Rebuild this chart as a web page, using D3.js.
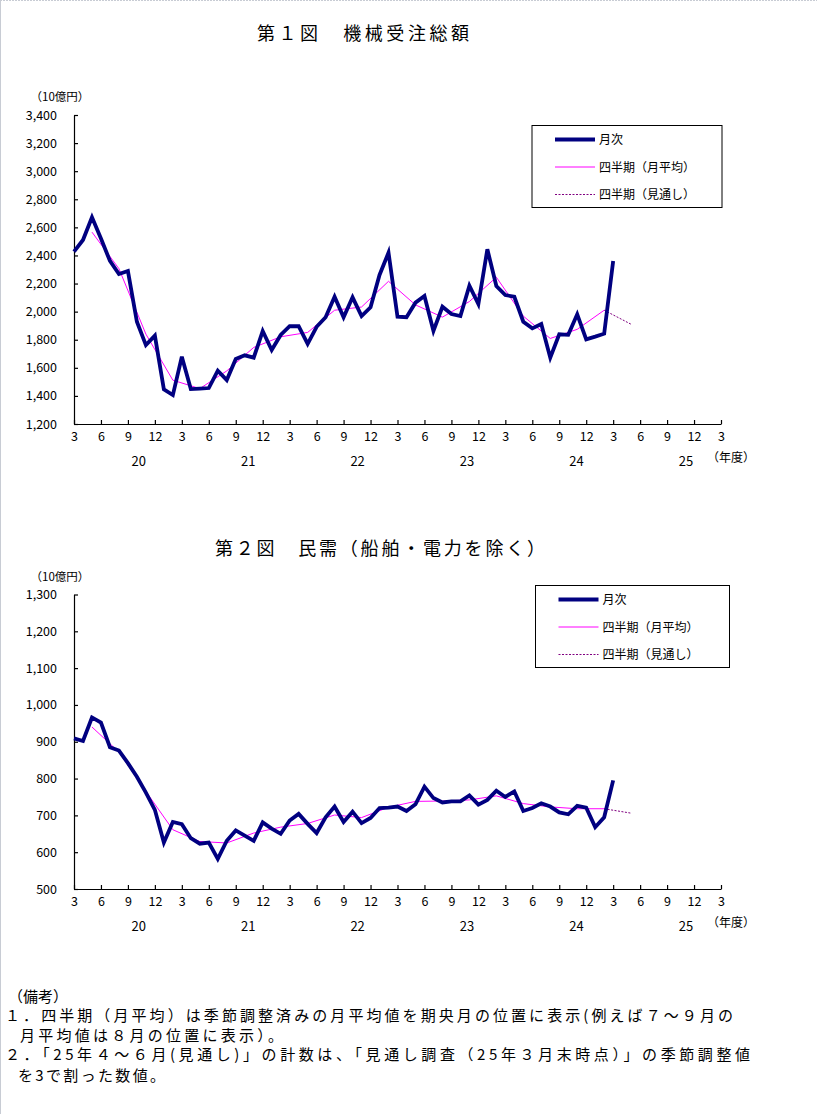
<!DOCTYPE html>
<html><head><meta charset="utf-8">
<script src="https://cdn.jsdelivr.net/npm/d3@7"></script>
<style>
body{margin:0;background:#fff}
text{font-family:"Noto Sans CJK JP","Noto Sans",sans-serif;fill:#000}
</style>
</head><body>
<svg id="c" width="817" height="1114"></svg>
<script>
// ---------- DATA ----------
// Month index 0 = March 2020, 60 = March 2025 (axis runs to index 72 = March 2026)
const xTickLabels = ["3","6","9","12","3","6","9","12","3","6","9","12","3","6","9","12","3","6","9","12","3","6","9","12","3"];
const fiscalYears = ["20","21","22","23","24","25"];
const legendLabels = ["月次","四半期（月平均）","四半期（見通し）"];

// 第1図 機械受注総額 (10億円)
const totalMonthly = [2427,2510,2672,2520,2361,2268,2289,1928,1762,1829,1447,1406,1679,1449,1452,1456,1580,1513,1663,1689,
  1672,1862,1727,1834,1896,1896,1770,1892,1960,2106,1960,2102,1969,2031,2261,2420,1964,1960,2064,2111,
  1863,2035,1983,1969,2185,2054,2444,2182,2118,2106,1928,1881,1912,1672,1839,1835,1981,1803,1822,1843,2361];
const totalQuarterly = [2566,2306,1840,1512,1452,1578,1745,1821,1852,2010,2033,2216,2048,1961,2072,2245,1968,1809,1874,2010];
const totalForecast = [1910];
const totalYTicks = [1200,1400,1600,1800,2000,2200,2400,2600,2800,3000,3200,3400];

// 第2図 民需（船舶・電力を除く） (10億円)
const privMonthly = [909,902,966,952,885,876,842,805,762,715,626,682,676,638,623,626,582,631,659,645,
  631,681,664,650,686,704,677,652,695,724,682,710,679,693,720,721,724,712,730,778,
  747,735,738,738,754,729,742,767,750,765,712,720,733,724,708,703,726,721,668,695,795];
const privQuarterly = [940,872,765,661,629,625,652,668,678,701,694,722,738,739,742,753,732,723,718,718];
const privForecast = [706];
const privYTicks = [500,600,700,800,900,1000,1100,1200,1300];

const notes = [
  "（備考）",
  "１．四半期（月平均）は季節調整済みの月平均値を期央月の位置に表示(例えば７～９月の",
  "月平均値は８月の位置に表示）。",
  "２．「25年４～６月(見通し)」の計数は、「見通し調査（25年３月末時点）」の季節調整値",
  "を3で割った数値。"
];

// ---------- DRAW ----------
const svg = d3.select("#c");
svg.append("rect").attr("width",817).attr("height",1114).attr("fill","#fff");
svg.append("line").attr("x1",0).attr("x2",817).attr("y1",0.5).attr("y2",0.5)
  .attr("stroke","#c8ccd4").attr("stroke-dasharray","2,1");
svg.append("line").attr("x1",0.5).attr("x2",0.5).attr("y1",0).attr("y2",1114)
  .attr("stroke","#c8ccd4");

function drawChart(cfg){
  const g = svg.append("g");
  const x = d3.scaleLinear().domain([0,72]).range([74,721]);
  const y = d3.scaleLinear().domain([cfg.yTicks[0], cfg.yTicks[cfg.yTicks.length-1]]).range([cfg.bottom, cfg.top]);

  // title
  g.append("text").attr("x",cfg.titleX).attr("y",cfg.titleY)
    .attr("font-size",18).attr("textLength",cfg.titleW).attr("lengthAdjust","spacing")
    .text(cfg.title);

  // unit label
  g.append("text").attr("x",60).attr("y",cfg.top-14).attr("text-anchor","middle")
    .attr("font-size",11.5).text("（10億円）");

  // y axis
  const ya = g.append("g").attr("transform",`translate(74,0)`)
    .call(d3.axisLeft(y).tickValues(cfg.yTicks).tickSize(-4).tickSizeOuter(0)
      .tickPadding(17).tickFormat(d3.format(",")));
  ya.selectAll("text").attr("font-size",12.5).attr("font-family",'"Noto Sans CJK JP",sans-serif');
  ya.selectAll("line,path").attr("stroke","#000").attr("stroke-width",1.2);

  // x axis
  const xa = g.append("g").attr("transform",`translate(0,${cfg.bottom})`)
    .call(d3.axisBottom(x).tickValues(d3.range(0,73,3)).tickSize(-4).tickSizeOuter(0)
      .tickPadding(8).tickFormat((d,i)=>xTickLabels[i]));
  xa.selectAll("text").attr("font-size",12.5).attr("font-family",'"Noto Sans CJK JP",sans-serif');
  xa.selectAll("line,path").attr("stroke","#000").attr("stroke-width",1.2);

  // fiscal year labels
  g.selectAll(".fy").data(fiscalYears).enter().append("text")
    .attr("x",(d,k)=>x(7.2 + 12.18*k)).attr("y",cfg.bottom+42)
    .attr("text-anchor","middle").attr("font-size",13).text(d=>d);
  g.append("text").attr("x",731).attr("y",cfg.bottom+38).attr("text-anchor","middle")
    .attr("font-size",12).text("（年度）");

  // quarterly line
  const qPts = cfg.quarterly.map((v,k)=>[2+3*k, v]);
  const line = d3.line().x(d=>x(d[0])).y(d=>y(d[1]));
  g.append("path").datum(qPts).attr("d",line).attr("fill","none")
    .attr("stroke","#ff00ff").attr("stroke-width",1);
  // forecast dashed
  const last = qPts[qPts.length-1];
  const fPts = [last].concat(cfg.forecast.map((v,k)=>[last[0]+3*(k+1), v]));
  g.append("path").datum(fPts).attr("d",line).attr("fill","none")
    .attr("stroke","#800080").attr("stroke-width",1).attr("stroke-dasharray","2,1.5");
  // monthly
  const mPts = cfg.monthly.map((v,i)=>[i,v]);
  g.append("path").datum(mPts).attr("d",line).attr("fill","none")
    .attr("stroke","#000080").attr("stroke-width",3.8).attr("stroke-linejoin","miter");

  // legend
  const L = cfg.legend;
  g.append("rect").attr("x",L.x).attr("y",L.y).attr("width",L.w).attr("height",L.h)
    .attr("fill","#fff").attr("stroke","#000").attr("stroke-width",1);
  const styles = [
    {stroke:"#000080",w:3.8,dash:null},
    {stroke:"#ff00ff",w:1,dash:null},
    {stroke:"#800080",w:1,dash:"2,1.5"}
  ];
  legendLabels.forEach((lab,k)=>{
    const yy = L.y + 14 + k*27.5;
    g.append("line").attr("x1",L.x+23).attr("x2",L.x+63).attr("y1",yy).attr("y2",yy)
      .attr("stroke",styles[k].stroke).attr("stroke-width",styles[k].w)
      .attr("stroke-dasharray",styles[k].dash);
    g.append("text").attr("x",L.x+67).attr("y",yy+4.5).attr("font-size",12).text(lab);
  });
}

drawChart({
  title:"第１図　機械受注総額", titleX:257, titleY:40, titleW:212,
  top:115, bottom:424, yTicks: totalYTicks,
  monthly: totalMonthly, quarterly: totalQuarterly, forecast: totalForecast,
  legend:{x:532, y:125.5, w:190, h:82}
});
drawChart({
  title:"第２図　民需（船舶・電力を除く）", titleX:215, titleY:555, titleW:330,
  top:594.5, bottom:889, yTicks: privYTicks,
  monthly: privMonthly, quarterly: privQuarterly, forecast: privForecast,
  legend:{x:535.5, y:585.5, w:194, h:82}
});

// notes
const noteLayout = [
  {x:8, y:1002, w:60},
  {x:5, y:1021, w:728},
  {x:20, y:1041, w:263},
  {x:5, y:1060, w:745},
  {x:18, y:1081, w:147}
];
notes.forEach((t,k)=>{
  svg.append("text").attr("x",noteLayout[k].x).attr("y",noteLayout[k].y)
    .attr("font-size",15).attr("textLength",noteLayout[k].w).attr("lengthAdjust","spacing").text(t);
});
</script>
</body></html>
